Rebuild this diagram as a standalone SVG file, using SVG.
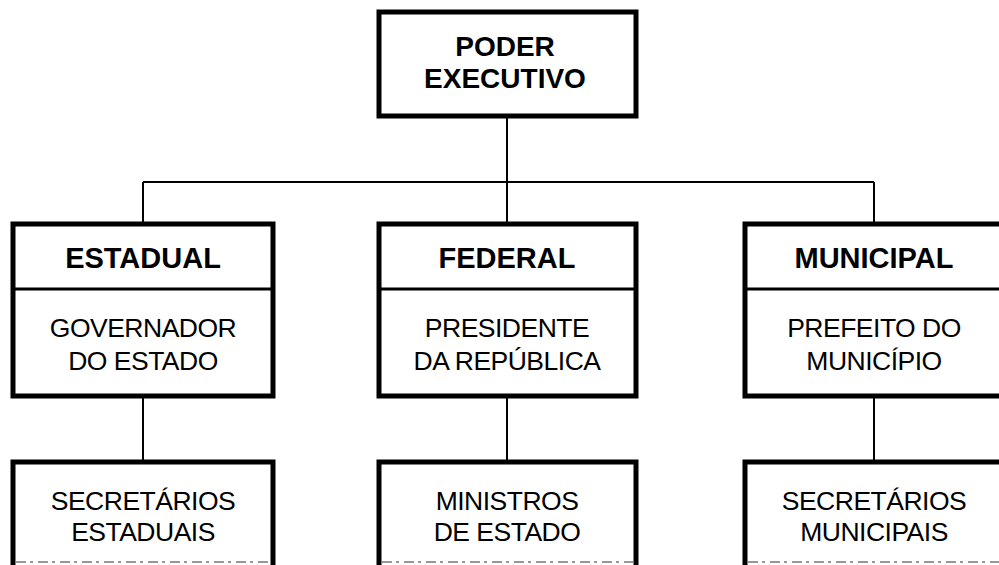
<svg xmlns="http://www.w3.org/2000/svg" width="999" height="565" viewBox="0 0 999 565">
<style>
.box{fill:#fff;stroke:#000;stroke-width:5}
.div{stroke:#000;stroke-width:3}
.con{fill:none;stroke:#000;stroke-width:2}
.edge{fill:none;stroke:#000;stroke-width:5}
.torn{stroke:#777;stroke-width:1.5;stroke-dasharray:10 4 3 5}
.h{font-family:"Liberation Sans",Arial,sans-serif;font-weight:bold;font-size:29px;text-anchor:middle;fill:#000}
.ht{font-family:"Liberation Sans",Arial,sans-serif;font-weight:bold;font-size:28px;text-anchor:middle;fill:#000}
.t{font-family:"Liberation Sans",Arial,sans-serif;font-size:26.5px;letter-spacing:-0.5px;text-anchor:middle;fill:#000}
</style>
<rect width="999" height="565" fill="#fff"/>
<g id="connectors">
<path class="con" d="M507 116V182M143 182H874M143 182V224M507 182V224M874 182V224"/>
<path class="con" d="M143 396V462M507 396V462M874 396V462"/>
</g>
<g id="poder-executivo">
<rect class="box" x="379" y="12" width="257" height="104"/>
<text class="ht" x="505" y="56">PODER</text>
<text class="ht" x="505" y="88">EXECUTIVO</text>
</g>
<g id="estadual">
<rect class="box" x="13" y="224" width="260" height="172"/>
<line class="div" x1="15" y1="289" x2="271" y2="289"/>
<text class="h" x="143" y="268">ESTADUAL</text>
<text class="t" x="143" y="337">GOVERNADOR</text>
<text class="t" x="143" y="370">DO ESTADO</text>
</g>
<g id="federal">
<rect class="box" x="379" y="224" width="257" height="172"/>
<line class="div" x1="381" y1="289" x2="634" y2="289"/>
<text class="h" x="507" y="268">FEDERAL</text>
<text class="t" x="507" y="337">PRESIDENTE</text>
<text class="t" x="507" y="370">DA REPÚBLICA</text>
</g>
<g id="municipal">
<rect class="box" x="745" y="224" width="262" height="172"/>
<line class="div" x1="747" y1="289" x2="999" y2="289"/>
<text class="h" x="874" y="268">MUNICIPAL</text>
<text class="t" x="874" y="337">PREFEITO DO</text>
<text class="t" x="874" y="370">MUNICÍPIO</text>
</g>
<g id="secretarios-estaduais">
<path class="edge" d="M13 565V462H273V565"/>
<line class="torn" x1="16" y1="562" x2="270" y2="562"/>
<text class="t" x="143" y="510">SECRETÁRIOS</text>
<text class="t" x="143" y="541">ESTADUAIS</text>
</g>
<g id="ministros-de-estado">
<path class="edge" d="M379 565V462H636V565"/>
<line class="torn" x1="382" y1="562" x2="633" y2="562"/>
<text class="t" x="507" y="510">MINISTROS</text>
<text class="t" x="507" y="541">DE ESTADO</text>
</g>
<g id="secretarios-municipais">
<path class="edge" d="M745 565V462H1007"/>
<line class="torn" x1="748" y1="562" x2="999" y2="562"/>
<text class="t" x="874" y="510">SECRETÁRIOS</text>
<text class="t" x="874" y="541">MUNICIPAIS</text>
</g>
</svg>
